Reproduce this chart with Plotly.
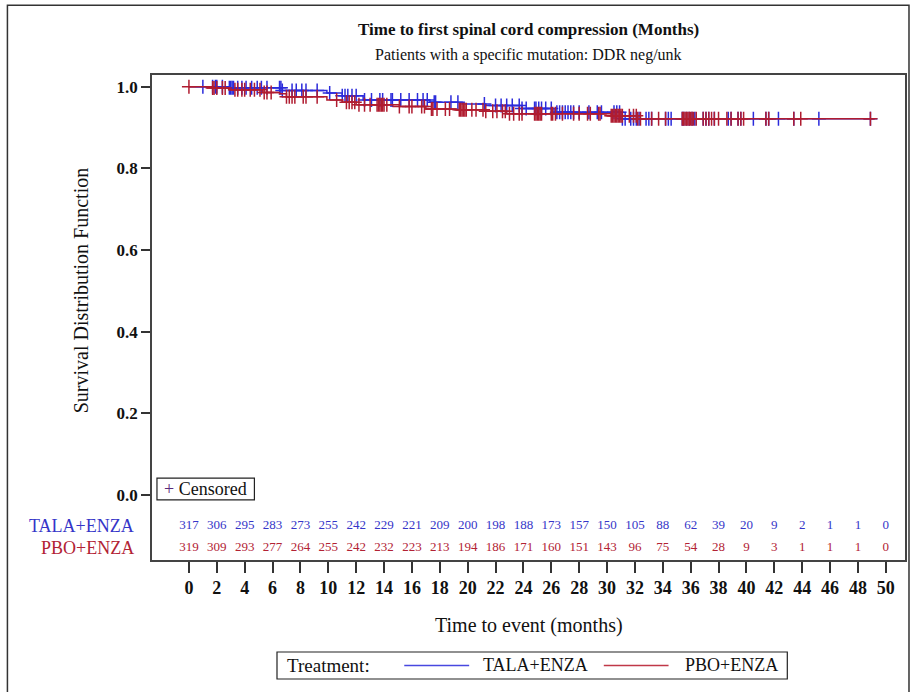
import plotly.graph_objects as go
import bisect

# ---------------- data ----------------
MONTHS = list(range(0, 52, 2))
TALA_RISK = [317, 306, 295, 283, 273, 255, 242, 229, 221, 209, 200, 198, 188,
             173, 157, 150, 105, 88, 62, 39, 20, 9, 2, 1, 1, 0]
PBO_RISK = [319, 309, 293, 277, 264, 255, 242, 232, 223, 213, 194, 186, 171,
            160, 151, 143, 96, 75, 54, 28, 9, 3, 1, 1, 1, 0]

# Kaplan-Meier step estimates (time in months, survival)
TALA_T = [0, 2.9, 6.7, 9.9, 11.0, 12.5, 17.3, 19.6, 21.3, 23.9, 26.2, 31.0, 49.2]
TALA_S = [1.0, 0.998, 0.991, 0.985, 0.978, 0.968, 0.962, 0.958, 0.954, 0.947, 0.938, 0.922, 0.922]
PBO_T = [0, 1.7, 2.9, 5.3, 6.5, 7.0, 9.9, 11.0, 12.0, 15.1, 17.0, 19.2, 21.3, 22.8, 30.3, 32.2, 49.2]
PBO_S = [1.0, 0.997, 0.993, 0.986, 0.983, 0.976, 0.968, 0.962, 0.956, 0.952, 0.946, 0.944,
         0.940, 0.934, 0.929, 0.922, 0.922]

# censoring times
TALA_CENS = [1.0, 1.7, 1.9, 2.0, 2.4, 2.9, 3.0, 3.1, 3.2, 3.5, 3.8, 4.1, 4.5, 4.9, 5.2, 5.6,
             6.5, 6.6, 6.7, 7.4, 7.7, 8.1, 8.4, 9.2, 10.1, 11.0, 11.2, 11.4, 11.7, 12.0, 12.6,
             13.1, 13.7, 13.9, 14.5, 14.6, 15.2, 15.8, 16.4, 16.8, 17.1, 17.6, 17.7, 18.8,
             19.3, 21.2, 22.0, 22.4, 22.8, 23.2, 23.7, 23.9, 24.2, 24.8, 24.9, 25.1, 25.3,
             25.6, 26.0, 26.4, 26.6, 26.8, 27.0, 27.2, 27.4, 27.6, 28.0, 28.7, 29.3, 29.6,
             30.5, 30.7, 30.9, 31.1, 31.3, 31.7, 31.9, 32.1, 32.3, 32.8, 33.0, 33.2, 34.2,
             34.4, 34.6, 35.4, 35.5, 35.7, 35.9, 36.1, 36.3, 36.9, 37.1, 37.3, 37.7, 38.7,
             38.9, 39.4, 39.6, 40.5, 41.4, 41.6, 42.3, 43.4, 45.2, 48.9]
PBO_CENS = [0.0, 1.7, 1.8, 2.0, 2.4, 2.6, 3.3, 3.5, 3.8, 4.0, 4.4, 4.7, 5.1, 5.4, 5.6, 5.9,
            7.0, 7.2, 7.4, 7.6, 8.2, 8.4, 9.2, 10.6, 11.3, 11.5, 11.7, 11.9, 12.2, 12.6, 13.0,
            13.5, 13.6, 13.7, 13.8, 13.9, 14.0, 14.2, 15.1, 15.8, 16.0, 16.7, 16.9, 17.4,
            17.5, 17.8, 18.4, 18.7, 19.4, 19.5, 19.6, 19.7, 19.8, 19.9, 20.3, 20.6, 21.1,
            21.3, 21.8, 22.1, 22.5, 22.7, 23.0, 23.3, 23.7, 23.9, 24.8, 24.9, 25.0, 25.1,
            25.2, 25.3, 26.0, 26.1, 26.3, 26.8, 27.6, 28.0, 28.6, 28.8, 29.4, 29.5, 30.3,
            30.4, 30.5, 30.6, 30.7, 30.8, 30.9, 31.0, 31.1, 31.6, 31.9, 32.1, 32.2, 32.4,
            33.2, 33.7, 34.2, 35.4, 35.5, 35.6, 35.7, 35.8, 35.9, 36.0, 36.1, 36.2, 36.4,
            36.9, 37.1, 37.3, 37.5, 37.7, 38.0, 38.6, 38.9, 39.4, 39.6, 39.8, 41.4, 41.6,
            43.4, 43.9, 48.9]

GROUPS = ["TALA+ENZA", "PBO+ENZA"]
BLUE = "#2B2BDB"
RED = "#B01C30"
BLUE_TXT = "#3535C8"
RED_TXT = "#B22234"
FONT = "Liberation Serif"


def surv_at(times, surv, t):
    i = bisect.bisect_right(times, t) - 1
    return surv[max(i, 0)]


fig = go.Figure()
for name, T, S, C, col in [(GROUPS[0], TALA_T, TALA_S, TALA_CENS, BLUE),
                           (GROUPS[1], PBO_T, PBO_S, PBO_CENS, RED)]:
    fig.add_trace(go.Scatter(x=T, y=S, mode="lines", line=dict(color=col, width=1.5, shape="hv"),
                             name=name, showlegend=False, hoverinfo="skip"))
    fig.add_trace(go.Scatter(x=C, y=[surv_at(T, S, c) for c in C], mode="markers",
                             marker=dict(symbol="cross-thin", size=10,
                                         line=dict(color=col, width=1.5)),
                             name=name + " censored", showlegend=False))

# at-risk table
for vals, ypos, col in [(TALA_RISK, -0.076, BLUE_TXT), (PBO_RISK, -0.130, RED_TXT)]:
    fig.add_trace(go.Scatter(x=MONTHS, y=[ypos] * len(MONTHS), mode="text",
                             text=[str(v) for v in vals],
                             textfont=dict(family=FONT, size=13, color=col),
                             showlegend=False, hoverinfo="skip"))


def ann(text, x, y, size, color="#111", xanchor="center", yref="paper", **kw):
    d = dict(text=text, x=x, y=y, xref="paper", yref=yref, showarrow=False,
             xanchor=xanchor, yanchor="middle", font=dict(family=FONT, size=size, color=color))
    d.update(kw)
    return d


annotations = [
    ann("<b>Time to first spinal cord compression (Months)</b>", 0.5, 1.093, 17),
    ann("Patients with a specific mutation: DDR neg/unk", 0.5, 1.041, 16),
    ann("Survival Distribution Function", -0.095, 0.557, 20, textangle=-90),
    ann("Time to event (months)", 0.5, -0.136, 20),
    ann(GROUPS[0], -0.021, -0.076, 18, BLUE_TXT, xanchor="right", yref="y"),
    ann(GROUPS[1], -0.021, -0.130, 18, RED_TXT, xanchor="right", yref="y"),
    ann("<span style='color:#5a2a7a'>+</span> Censored", 0.0715, 0.1465, 18),
    ann("Treatment:", 0.176, -0.2175, 19, xanchor="left"),
    ann(GROUPS[0], 0.437, -0.2175, 18, xanchor="left"),
    ann(GROUPS[1], 0.7046, -0.2175, 18, xanchor="left"),
]

shapes = [
    # outer frame
    dict(type="rect", xref="paper", yref="paper", x0=-0.192, x1=1.0053, y0=-0.29, y1=1.144,
         line=dict(color="#333", width=1.5)),
    # censored box
    dict(type="rect", xref="paper", yref="paper", x0=0.0066, x1=0.136, y0=0.124, y1=0.169,
         line=dict(color="#222", width=1.2)),
    # legend box
    dict(type="rect", xref="paper", yref="paper", x0=0.166, x1=0.8437, y0=-0.2454, y1=-0.1897,
         line=dict(color="#222", width=1.2)),
    dict(type="line", xref="paper", yref="paper", x0=0.335, x1=0.4212, y0=-0.2175, y1=-0.2175,
         line=dict(color="#4848E0", width=1.5)),
    dict(type="line", xref="paper", yref="paper", x0=0.6, x1=0.686, y0=-0.2175, y1=-0.2175,
         line=dict(color="#C03848", width=1.5)),
]

fig.update_layout(
    width=913, height=692,
    margin=dict(l=152, r=6, t=75, b=132),
    paper_bgcolor="white", plot_bgcolor="white",
    showlegend=False,
    annotations=annotations, shapes=shapes,
    xaxis=dict(range=[-2.65, 51.38], tickvals=MONTHS, ticks="outside", ticklen=11,
               tickwidth=1.5, tickcolor="#333", showline=True, mirror=True,
               linecolor="#444", linewidth=1.5, showgrid=False, zeroline=False,
               tickfont=dict(family=FONT, size=18, color="#111", weight="bold")),
    yaxis=dict(range=[-0.159, 1.029], tickvals=[0, 0.2, 0.4, 0.6, 0.8, 1.0],
               ticktext=["0.0", "0.2", "0.4", "0.6", "0.8", "1.0"], ticks="outside",
               ticklen=9, tickwidth=1.5, tickcolor="#333", showline=True, mirror=True,
               linecolor="#444", linewidth=1.5, showgrid=False, zeroline=False,
               tickfont=dict(family=FONT, size=17, color="#111", weight="bold")),
)

fig.write_html("out.html")
